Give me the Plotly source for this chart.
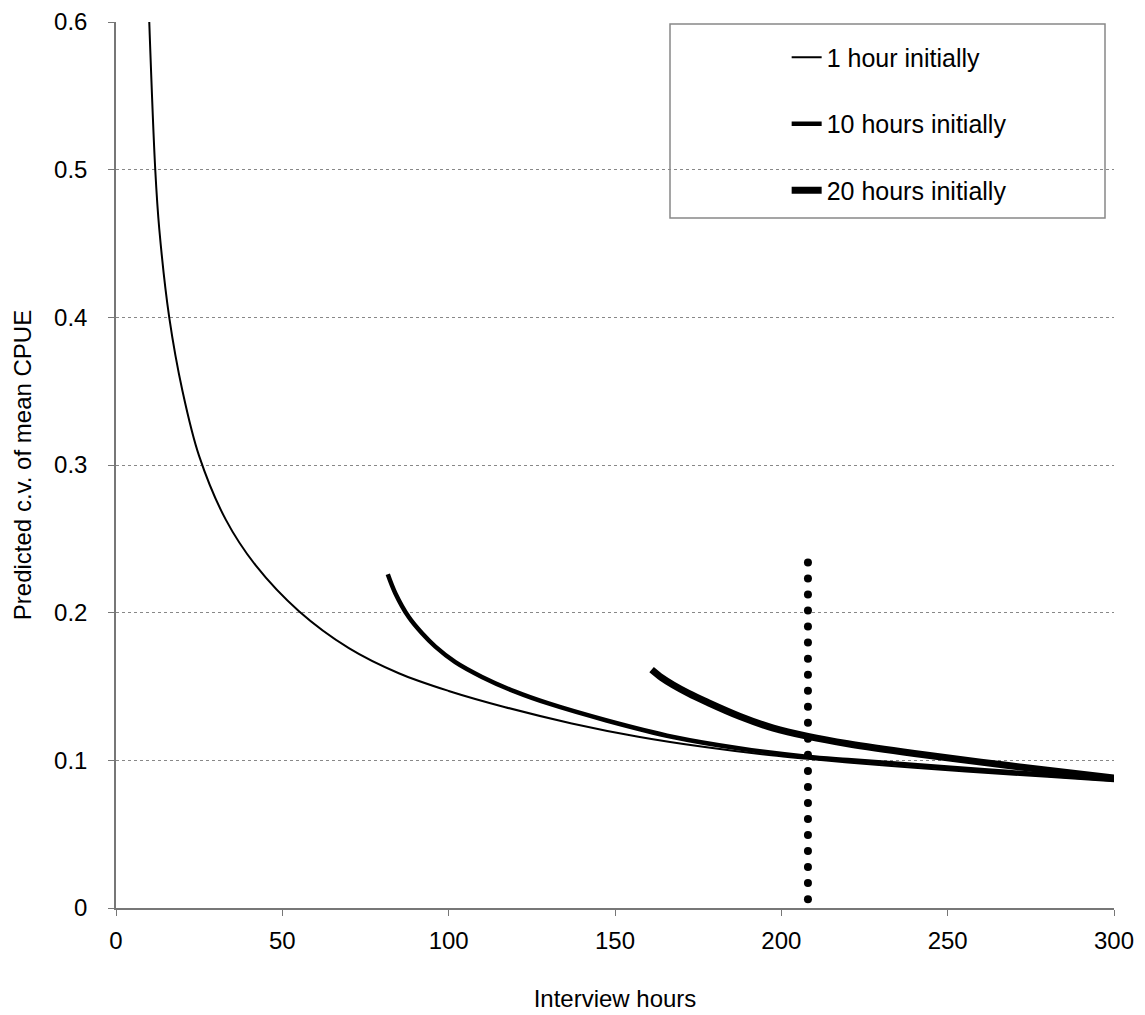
import numpy as np
import plotly.graph_objects as go

# ---- data ----
x_1h = [10, 11.8, 13, 16, 20, 25, 33, 42, 55, 70, 85, 100, 117, 137, 157, 177, 197, 208, 220, 240, 260, 280, 300]
y_1h = [0.6, 0.5, 0.46, 0.40, 0.35, 0.306, 0.263, 0.232, 0.201, 0.176, 0.159, 0.147, 0.136, 0.125, 0.116,
        0.109, 0.1034, 0.101, 0.0985, 0.0950, 0.0918, 0.0888, 0.0858]

x_10h = [81.7, 84, 88, 92, 96, 102, 110, 120, 130, 147.5, 167.5, 187.6, 207.6, 220, 240, 260, 280, 300]
y_10h = [0.226, 0.213, 0.197, 0.186, 0.177, 0.1665, 0.1565, 0.1465, 0.1385, 0.127, 0.1158, 0.108, 0.1025,
         0.1002, 0.0968, 0.0935, 0.0902, 0.087]

x_20h = [161, 164, 167.5, 172, 177.6, 187.6, 197.6, 208, 220, 240, 260, 280, 300]
y_20h = [0.1614, 0.156, 0.151, 0.1455, 0.1395, 0.1297, 0.1218, 0.1162, 0.1112, 0.1046, 0.0988, 0.0933, 0.0880]

ref_x = 208          # vertical dotted reference line
ref_y = (0.006, 0.234)
ref_n = 22           # number of dots

names = ["1 hour initially", "10 hours initially", "20 hours initially"]

FONT = "Arial, 'Liberation Sans', sans-serif"

fig = go.Figure()
for i, (xs, ys, w) in enumerate([(x_1h, y_1h, 2), (x_10h, y_10h, 4.5), (x_20h, y_20h, 7)]):
    fig.add_trace(go.Scatter(
        x=xs, y=ys, mode="lines", name=names[i], legendgroup=f"g{i}",
        line=dict(color="black", width=w, shape="spline", smoothing=1.0),
    ))

fig.add_trace(go.Scatter(
    x=[ref_x] * ref_n, y=np.linspace(ref_y[0], ref_y[1], ref_n), mode="markers",
    marker=dict(color="black", size=8), showlegend=False, hoverinfo="skip",
))

fig.update_layout(
    width=1145, height=1015,
    margin=dict(l=116, r=31, t=22, b=107),
    paper_bgcolor="white", plot_bgcolor="white",
    font=dict(family=FONT, color="black", size=24),
    showlegend=True,
    legend=dict(x=0.672, y=0.986, xanchor="left", yanchor="top",
                bgcolor="rgba(0,0,0,0)", borderwidth=0,
                font=dict(size=25, family=FONT), tracegroupgap=31,
                itemwidth=30),
    xaxis=dict(range=[0, 300], tickvals=[0, 50, 100, 150, 200, 250, 300],
               showgrid=False, zeroline=False, showline=True, linecolor="#777", linewidth=1.5,
               ticks="outside", ticklen=6, tickcolor="#777", ticklabelstandoff=4,
               automargin=False,
               title=dict(text="Interview hours", font=dict(size=24), standoff=38),
               tickfont=dict(size=24)),
    yaxis=dict(range=[0, 0.6], tickvals=[0, 0.1, 0.2, 0.3, 0.4, 0.5, 0.6],
               ticktext=["0", "0.1", "0.2", "0.3", "0.4", "0.5", "0.6"],
               showgrid=True, gridcolor="#888", griddash="dot", gridwidth=1.2,
               zeroline=False, showline=True, linecolor="#777", linewidth=1.5,
               ticks="outside", ticklen=6, tickcolor="#777", ticklabelstandoff=16,
               automargin=False,
               title=dict(text="Predicted c.v. of mean CPUE", font=dict(size=24), standoff=16),
               tickfont=dict(size=24)),
    shapes=[dict(type="rect", xref="paper", yref="paper",
                 x0=(670 - 116) / 998, x1=(1105 - 116) / 998,
                 y0=(908 - 218) / 886, y1=(908 - 24) / 886,
                 line=dict(color="#888", width=1.5), fillcolor="rgba(0,0,0,0)", layer="below")],
)

fig.write_html("out.html")
